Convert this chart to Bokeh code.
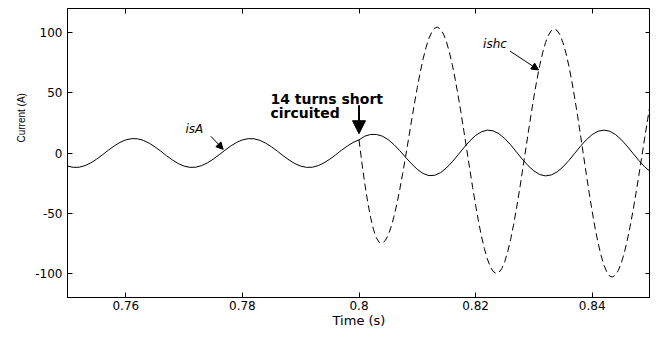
from bokeh.plotting import figure
from bokeh.models import LinearAxis, FixedTicker, Range1d, Label, Arrow, NormalHead, Title
from bokeh.embed import file_html
from bokeh.resources import INLINE

# ---------------- data ----------------
xticks = [0.76, 0.78, 0.8, 0.82, 0.84]
xtick_labels = ["0.76", "0.78", "0.8", "0.82", "0.84"]
yticks = [-100, -50, 0, 50, 100]
ytick_labels = ["-100", "-50", "0", "50", "100"]

isA_t = [0.750, 0.751, 0.752, 0.753, 0.754, 0.755, 0.756, 0.757, 0.758, 0.759,
         0.760, 0.761, 0.762, 0.763, 0.764, 0.765, 0.766, 0.767, 0.768, 0.769,
         0.770, 0.771, 0.772, 0.773, 0.774, 0.775, 0.776, 0.777, 0.778, 0.779,
         0.780, 0.781, 0.782, 0.783, 0.784, 0.785, 0.786, 0.787, 0.788, 0.789,
         0.790, 0.791, 0.792, 0.793, 0.794, 0.795, 0.796, 0.797, 0.798, 0.799,
         0.800, 0.801, 0.802, 0.803, 0.804, 0.805, 0.806, 0.807, 0.808, 0.809,
         0.810, 0.811, 0.812, 0.813, 0.814, 0.815, 0.816, 0.817, 0.818, 0.819,
         0.820, 0.821, 0.822, 0.823, 0.824, 0.825, 0.826, 0.827, 0.828, 0.829,
         0.830, 0.831, 0.832, 0.833, 0.834, 0.835, 0.836, 0.837, 0.838, 0.839,
         0.840, 0.841, 0.842, 0.843, 0.844, 0.845, 0.846, 0.847, 0.848, 0.849,
         0.850]
isA_v = [-10.9, -11.9, -11.8, -10.5, -8.2, -5.1, -1.5, 2.3, 5.8, 8.8,
         10.9, 11.9, 11.8, 10.5, 8.2, 5.1, 1.5, -2.3, -5.8, -8.8,
         -10.9, -11.9, -11.8, -10.5, -8.2, -5.1, -1.5, 2.3, 5.8, 8.8,
         10.9, 11.9, 11.8, 10.5, 8.2, 5.1, 1.5, -2.3, -5.8, -8.8,
         -10.9, -11.9, -11.8, -10.5, -8.2, -5.1, -1.5, 2.3, 5.8, 8.8,
         10.9, 14.0, 15.4, 15.4, 14.0, 11.1, 7.0, 1.9, -3.6, -8.9,
         -13.6, -17.0, -18.8, -18.5, -16.3, -12.4, -7.3, -1.5, 4.5, 10.0,
         14.6, 17.6, 19.0, 18.4, 16.0, 12.0, 6.8, 0.9, -5.1, -10.5,
         -14.9, -17.9, -19.0, -18.2, -15.7, -11.5, -6.2, -0.3, 5.7, 11.0,
         15.3, 18.1, 19.0, 18.1, 15.3, 11.0, 5.7, -0.3, -6.2, -11.5,
         -15.6]

ishc_t = [0.8000, 0.8005, 0.8010, 0.8015, 0.8020, 0.8025, 0.8030, 0.8035, 0.8038,
          0.8040, 0.8045, 0.8050, 0.8055, 0.8060, 0.8065, 0.8070, 0.8075, 0.8080,
          0.8085, 0.8090, 0.8095, 0.8100, 0.8105, 0.8110, 0.8115, 0.8120, 0.8125,
          0.8130, 0.8134, 0.8135, 0.8140, 0.8145, 0.8150, 0.8155, 0.8160, 0.8165,
          0.8170, 0.8175, 0.8180, 0.8185, 0.8190, 0.8195, 0.8200, 0.8205, 0.8210,
          0.8215, 0.8220, 0.8225, 0.8230, 0.8235, 0.8236, 0.8240, 0.8245, 0.8250,
          0.8255, 0.8260, 0.8265, 0.8270, 0.8275, 0.8280, 0.8285, 0.8290, 0.8295,
          0.8300, 0.8305, 0.8310, 0.8315, 0.8320, 0.8325, 0.8330, 0.8335, 0.8340,
          0.8345, 0.8350, 0.8355, 0.8360, 0.8365, 0.8370, 0.8375, 0.8380, 0.8385,
          0.8390, 0.8395, 0.8400, 0.8405, 0.8410, 0.8415, 0.8420, 0.8425, 0.8430,
          0.8434, 0.8435, 0.8440, 0.8445, 0.8450, 0.8455, 0.8460, 0.8465, 0.8470,
          0.8475, 0.8480, 0.8485, 0.8490, 0.8495, 0.8500]
ishc_v = [10.9, -8.3, -25.7, -41.0, -53.8, -63.8, -70.7, -74.4, -75.0,
          -74.8, -72.7, -68.2, -61.5, -52.7, -42.2, -30.1, -16.9, -2.8,
          11.8, 26.5, 40.8, 54.4, 67.0, 78.2, 87.7, 95.2, 100.6,
          103.7, 104.5, 104.4, 102.8, 98.7, 92.3, 83.8, 73.4, 61.3,
          47.8, 33.3, 17.9, 2.3, -13.4, -28.7, -43.3, -56.8, -69.0,
          -79.3, -87.8, -94.2, -98.3, -99.9, -100.0, -99.2, -95.9, -90.2,
          -82.1, -72.0, -60.0, -46.4, -31.7, -16.1, -0.1, 15.9, 31.6,
          46.6, 60.4, 72.7, 83.2, 91.7, 97.9, 101.7, 103.0, 101.7,
          97.9, 91.5, 82.9, 72.3, 59.7, 45.7, 30.6, 14.7, -1.6,
          -17.9, -33.7, -48.6, -62.4, -74.5, -84.8, -93.0, -98.8, -102.2,
          -103.0, -103.0, -101.3, -97.4, -91.2, -83.0, -72.9, -61.1, -47.9,
          -33.7, -18.6, -3.2, 12.3, 27.6, 42.2]

FONT = "DejaVu Sans"

p = figure(width=650, height=330, output_backend="svg", toolbar_location=None,
           x_range=Range1d(0.75, 0.85), y_range=Range1d(-120, 120),
           min_border_left=67, min_border_right=0, min_border_top=8, min_border_bottom=0,
           background_fill_color="white", border_fill_color="white",
           outline_line_color="black", outline_line_width=1)
p.xgrid.visible = False
p.ygrid.visible = False

xa = p.xaxis[0]
xa.ticker = FixedTicker(ticks=xticks)
xa.major_label_overrides = dict(zip(xticks, xtick_labels))
xa.axis_label = "Time (s)"
xa.axis_label_text_font = FONT
xa.axis_label_text_font_size = "13px"
xa.axis_label_text_font_style = "normal"
xa.axis_label_standoff = 0
xa.major_label_text_font = FONT
xa.major_label_text_font_size = "12px"
xa.major_label_standoff = 3

ya = p.yaxis[0]
ya.ticker = FixedTicker(ticks=yticks)
ya.major_label_overrides = dict(zip(yticks, ytick_labels))
ya.major_label_text_font = FONT
ya.major_label_text_font_size = "12px"
ya.major_label_standoff = 5

for ax in (xa, ya):
    ax.axis_line_color = "black"
    ax.major_tick_in = 5
    ax.major_tick_out = 0
    ax.minor_tick_in = 0
    ax.minor_tick_out = 0
    ax.major_tick_line_color = "black"
    ax.major_label_text_color = "black"
    ax.axis_label_text_color = "black"

top = LinearAxis(ticker=FixedTicker(ticks=xticks),
                 major_label_overrides={t: "" for t in xticks},
                 major_label_text_font_size="1px", major_label_standoff=0,
                 major_tick_in=5, major_tick_out=0, minor_tick_in=0, minor_tick_out=0,
                 axis_line_color=None, major_tick_line_color="black")
p.add_layout(top, "above")
right = LinearAxis(ticker=FixedTicker(ticks=yticks),
                   major_label_overrides={t: "" for t in yticks},
                   major_label_text_font_size="1px", major_label_standoff=0,
                   major_tick_in=5, major_tick_out=0, minor_tick_in=0, minor_tick_out=0,
                   axis_line_color=None, major_tick_line_color="black")
p.add_layout(right, "right")

# y axis title, placed above centre as in the reference
p.add_layout(Title(text="Current (A)", align="left", offset=155, standoff=12,
                   text_font="Liberation Sans", text_font_size="10px",
                   text_font_style="normal", text_color="black"), "left")

p.line(isA_t, isA_v, line_color="black", line_width=1)
p.line(ishc_t, ishc_v, line_color="black", line_width=1, line_dash="7 4")

# annotations
p.add_layout(Label(x=0.7848, y=44.9, text="14 turns short", text_font=FONT,
                   text_font_style="bold", text_font_size="14px", text_color="black",
                   text_align="left", text_baseline="alphabetic"))
p.add_layout(Label(x=0.7848, y=33.6, text="circuited", text_font=FONT,
                   text_font_style="bold", text_font_size="14px", text_color="black",
                   text_align="left", text_baseline="alphabetic"))
p.add_layout(Arrow(end=NormalHead(size=13, fill_color="black", line_color="black"),
                   x_start=0.8, y_start=39.6, x_end=0.8, y_end=16.0,
                   line_color="black", line_width=2))

p.add_layout(Label(x=0.77177, y=19.9, text="isA", text_font=FONT,
                   text_font_style="italic", text_font_size="12px", text_color="black",
                   text_align="center", text_baseline="middle"))
p.add_layout(Arrow(end=NormalHead(size=7, fill_color="black", line_color="black"),
                   x_start=0.7746, y_start=13.9, x_end=0.7767, y_end=3.0,
                   line_color="black", line_width=1))

p.add_layout(Label(x=0.82333, y=90.4, text="ishc", text_font=FONT,
                   text_font_style="italic", text_font_size="12px", text_color="black",
                   text_align="center", text_baseline="middle"))
p.add_layout(Arrow(end=NormalHead(size=7, fill_color="black", line_color="black"),
                   x_start=0.82588, y_start=84.7, x_end=0.8308, y_end=69.0,
                   line_color="black", line_width=1))

open("out.html", "w").write(file_html(p, INLINE))
